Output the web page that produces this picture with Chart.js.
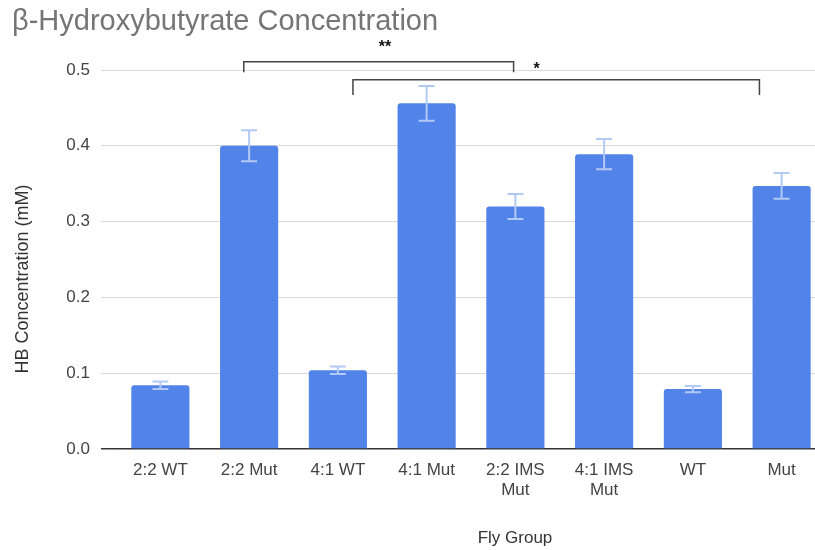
<!DOCTYPE html>
<html>
<head>
<meta charset="utf-8">
<title>β-Hydroxybutyrate Concentration</title>
<script src="https://cdn.jsdelivr.net/npm/chart.js@4/dist/chart.umd.min.js"></script>
<style>
    body { margin: 0; background: #fff; overflow: hidden; }
    #wrap { width: 826px; height: 550px; }
</style>
</head>
<body>
<div id="wrap"><canvas id="hbChart"></canvas></div>
<script>
// Data grafik
const flyGroups = ['2:2 WT', '2:2 Mut', '4:1 WT', '4:1 Mut', ['2:2 IMS', 'Mut'], ['4:1 IMS', 'Mut'], 'WT', 'Mut'];
const hbMeans = [0.084, 0.400, 0.104, 0.456, 0.320, 0.389, 0.079, 0.347];
const hbErrors = [0.005, 0.0205, 0.005, 0.023, 0.0165, 0.020, 0.004, 0.017];
const yTickValues = [0, 0.1, 0.2, 0.3, 0.4, 0.5];

// Tanda signifikansi (posisi dalam satuan kategori / nilai)
const sigBrackets = [
    { from: 0.94, to: 3.98, top: 0.511, end: 0.497, label: '**', labelAt: 2.53, labelY: 0.529 },
    { from: 2.17, to: 6.75, top: 0.487, end: 0.467, label: '*', labelAt: 4.24, labelY: 0.500 }
];

Chart.defaults.font.family = '"Liberation Sans", Arial, sans-serif';

// Garis error di atas batang
const errorBarPlugin = {
    id: 'errorBars',
    afterDatasetsDraw(chart) {
        const ctx = chart.ctx;
        const y = chart.scales.y;
        const meta = chart.getDatasetMeta(0);
        ctx.save();
        ctx.strokeStyle = '#b3c9f5';
        ctx.lineWidth = 2;
        meta.data.forEach((bar, i) => {
            const top = y.getPixelForValue(hbMeans[i] + hbErrors[i]);
            const bottom = y.getPixelForValue(hbMeans[i] - hbErrors[i]);
            ctx.beginPath();
            ctx.moveTo(bar.x, top);
            ctx.lineTo(bar.x, bottom);
            ctx.moveTo(bar.x - 8, top);
            ctx.lineTo(bar.x + 8, top);
            ctx.moveTo(bar.x - 8, bottom);
            ctx.lineTo(bar.x + 8, bottom);
            ctx.stroke();
        });
        ctx.restore();
    }
};

// Kurung signifikansi + judul sumbu
const annotationPlugin = {
    id: 'annotations',
    afterDraw(chart) {
        const ctx = chart.ctx;
        const x = chart.scales.x;
        const y = chart.scales.y;
        ctx.save();
        ctx.strokeStyle = '#444';
        ctx.lineWidth = 1.5;
        ctx.fillStyle = '#111';
        ctx.font = 'bold 16px "Liberation Sans", Arial, sans-serif';
        ctx.textAlign = 'center';
        ctx.textBaseline = 'middle';
        sigBrackets.forEach(b => {
            const x1 = x.getPixelForValue(b.from);
            const x2 = x.getPixelForValue(b.to);
            const yt = y.getPixelForValue(b.top);
            const ye = y.getPixelForValue(b.end);
            ctx.beginPath();
            ctx.moveTo(x1, ye);
            ctx.lineTo(x1, yt);
            ctx.lineTo(x2, yt);
            ctx.lineTo(x2, ye);
            ctx.stroke();
            ctx.fillText(b.label, x.getPixelForValue(b.labelAt), y.getPixelForValue(b.labelY));
        });

        // Judul sumbu
        ctx.fillStyle = '#333';
        ctx.font = '17px "Liberation Sans", Arial, sans-serif';
        ctx.fillText('Fly Group', 515, 538);
        ctx.translate(23, 279);
        ctx.rotate(-Math.PI / 2);
        ctx.font = '18px "Liberation Sans", Arial, sans-serif';
        ctx.fillText('HB Concentration (mM)', 0, 0);
        ctx.restore();
    }
};

const configHB = {
    type: 'bar',
    data: {
        labels: flyGroups,
        datasets: [{
            label: 'HB Concentration',
            data: hbMeans,
            backgroundColor: '#5183e9',
            borderRadius: 3,
            borderSkipped: 'bottom',
            categoryPercentage: 1,
            barPercentage: 0.655
        }]
    },
    options: {
        responsive: true,
        maintainAspectRatio: false,
        animation: false,
        layout: { padding: { left: 12, right: 0, top: 0, bottom: 0 } },
        plugins: {
            legend: { display: false },
            tooltip: { enabled: false },
            title: {
                display: true,
                text: 'β-Hydroxybutyrate Concentration',
                align: 'start',
                color: '#757575',
                font: { size: 29, weight: 'normal' },
                padding: { top: 5, bottom: 30.2 }
            }
        },
        scales: {
            x: {
                grid: { display: false, drawTicks: false },
                border: { display: false },
                ticks: {
                    color: '#444',
                    font: { size: 17 },
                    padding: 11,
                    autoSkip: false,
                    maxRotation: 0
                },
                afterFit: (scale) => { scale.height = 101; }
            },
            y: {
                min: 0,
                max: 0.5,
                border: { display: false },
                grid: {
                    color: (c) => c.tick && c.tick.value === 0 ? '#333' : '#d9d9d9',
                    lineWidth: (c) => c.tick && c.tick.value === 0 ? 1.5 : 1,
                    tickLength: 15
                },
                ticks: {
                    color: '#444',
                    font: { size: 17 },
                    padding: 11,
                    callback: (v) => Number(v).toFixed(1)
                },
                afterBuildTicks: (scale) => { scale.ticks = yTickValues.map(v => ({ value: v })); },
                afterFit: (scale) => { scale.width = 104; }
            }
        }
    },
    plugins: [errorBarPlugin, annotationPlugin]
};

document.addEventListener('DOMContentLoaded', () => {
    const ctx = document.getElementById('hbChart').getContext('2d');
    new Chart(ctx, configHB);
});
</script>
</body>
</html>
